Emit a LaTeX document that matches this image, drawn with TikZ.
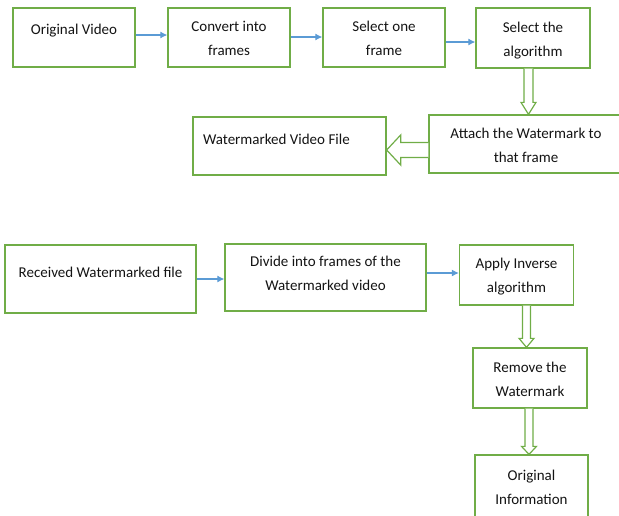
\documentclass[tikz,border=0pt]{standalone}
\usepackage{fontspec}
\setmainfont{Carlito}
\usetikzlibrary{calc,arrows.meta}
\definecolor{gr}{RGB}{112,173,71}
\definecolor{bl}{RGB}{91,155,213}
\definecolor{tx}{RGB}{20,20,20}
\newcommand\blkdown[6]{%
  \draw[hollow] let \p1=(#1.south -| #3), \p2=(#2.north -| #3) in
    ({\x1-#4},\y1) -- ({\x1-#4},{\y2+#6}) -- ({\x1-#5},{\y2+#6}) -- (\x2,\y2)
    -- ({\x1+#5},{\y2+#6}) -- ({\x1+#4},{\y2+#6}) -- ({\x1+#4},\y1);}
\newcommand\blkleft[6]{%
  \draw[hollow] let \p1=(#1.west |- #3), \p2=(#2.east |- #3) in
    (\x1,{\y1+#4}) -- ({\x2+#6},{\y1+#4}) -- ({\x2+#6},{\y1+#5}) -- (\x2,\y2)
    -- ({\x2+#6},{\y1-#5}) -- ({\x2+#6},{\y1-#4}) -- (\x1,{\y1-#4});}
\tikzset{
  box/.style={draw=gr, line width=1.3pt, fill=white, align=center, text=tx,
    font=\fontsize{15}{24}\selectfont, inner sep=0pt},
  one/.style={text height=12pt, text depth=#1},
  two/.style={text depth=6pt, text height=#1},
  hollow/.style={draw=gr, line width=1.2pt, fill=white, line join=miter},
  barrow/.style={draw=bl, line width=1.1pt, -{Latex[length=7pt,width=7pt]}},
}
\begin{document}
\begin{tikzpicture}[x=1pt,y=-1pt]
\useasboundingbox (0,0) rectangle (619,515);
\clip (0,0) rectangle (619,515);
% top row
\node[box, minimum width=122, minimum height=59, one=18pt] (s1) at (74,37.5) {Original Video};
\node[box, minimum width=122, minimum height=59, two=42pt] (s2) at (229,37.5) {Convert into\\frames};
\node[box, minimum width=122, minimum height=59, two=42pt] (s3) at (384,37.5) {Select one\\frame};
\node[box, minimum width=114, minimum height=60, two=43pt] (s4) at (533,38) {Select the\\algorithm};
\node[box, minimum width=194, minimum height=58, two=43pt] (s5) at (526,144) {Attach the Watermark to\\that frame};
\node[box, minimum width=193, minimum height=58, one=15pt] (s6) at (289.5,146) {\makebox[173pt][l]{Watermarked Video File}};
% bottom
\node[box, minimum width=191, minimum height=68, one=15pt] (r1) at (100.5,279) {Received Watermarked file};
\node[box, minimum width=201, minimum height=67, two=32pt] (r2) at (325.5,277.5) {Divide into frames of the\\Watermarked video};
\node[box, minimum width=114, minimum height=60, two=40pt] (r3) at (516.5,275) {Apply Inverse\\algorithm};
\node[box, minimum width=114, minimum height=60, two=43pt] (r4) at (530,378) {Remove the\\Watermark};
\node[box, minimum width=113, minimum height=65, two=40pt] (r5) at (531.5,487.5) {Original\\Information};
% blue arrows
\coordinate (a1) at ([yshift=2.5pt]s1.east);
\coordinate (a2) at ([yshift=0.5pt]s2.east);
\coordinate (a3) at ([yshift=-4.5pt]s3.east);
\coordinate (a4) at (r1.east);
\coordinate (a5) at ([yshift=4.5pt]r2.east);
\draw[barrow] (a1) -- (a1 -| s2.west);
\draw[barrow] (a2) -- (a2 -| s3.west);
\draw[barrow] (a3) -- (a3 -| s4.west);
\draw[barrow] (a4) -- (a4 -| r2.west);
\draw[barrow] (a5) -- (a5 -| r3.west);
% hollow arrows
\coordinate (ax1) at (528.5,0);
\coordinate (ax2) at (526.5,0);
\coordinate (ax3) at (529,0);
\coordinate (ay1) at (0,150);
\blkdown{s4}{s5}{ax1}{4.5pt}{7.5pt}{12pt}
\blkleft{s5}{s6}{ay1}{7.5pt}{15pt}{14pt}
\blkdown{r3}{r4}{ax2}{4pt}{7.5pt}{9pt}
\blkdown{r4}{r5}{ax3}{4pt}{7.5pt}{8pt}
\end{tikzpicture}
\end{document}
